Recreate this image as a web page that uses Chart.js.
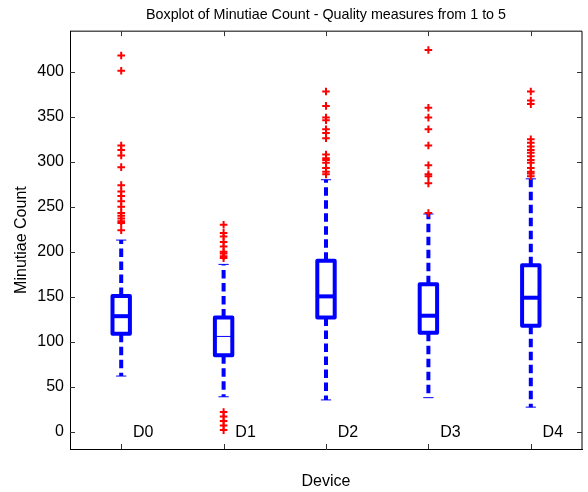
<!DOCTYPE html>
<html>
<head>
<meta charset="utf-8">
<script src="https://cdn.jsdelivr.net/npm/chart.js@4.4.1/dist/chart.umd.min.js"></script>
<style>
  body { margin: 0; background: #fff; }
  canvas { display: block; }
</style>
</head>
<body>
<canvas id="chart" width="588" height="492"></canvas>
<script>
// values
const devices = ['D0', 'D1', 'D2', 'D3', 'D4'];
const q1 = [109, 85, 127, 110, 118];
const medians = [128.5, 106, 150.5, 129, 149];
const q3 = [151, 127, 190, 164, 185];
const whiskerLow = [62, 39, 35.5, 38, 27.5];
const whiskerHigh = [213, 186, 280, 242, 281];
const outliers = [
  [418, 401, 318, 313, 307, 294, 274, 267, 262, 256, 250, 243, 240, 237, 234, 232, 224],
  [230, 221, 217, 211, 206, 200, 198, 195, 193, 22, 17, 12, 7, 2],
  [378, 362, 349, 346, 336, 332, 326, 308, 304, 302, 299, 293, 289, 286],
  [424, 360, 349, 336, 318, 296, 286, 284, 276, 243],
  [378, 368, 364, 325, 321, 317, 313, 310, 306, 302, 299, 293, 289, 287, 284]
];
const yTicks = [0, 50, 100, 150, 200, 250, 300, 350, 400];

// styles
const FONT = "'Liberation Sans', Arial, Helvetica, sans-serif";
const BLUE = '#0000ff';
const BOX_HALF = 0.085;
const CAP_HALF = 0.05;
const medianWidths = [4, 1, 4, 4, 4];

const outlierPoints = [];
outliers.forEach((list, i) => {
  list.forEach(v => outlierPoints.push({ x: i + 1, y: v }));
});

const boxPlugin = {
  id: 'boxes',
  beforeDatasetsDraw(chart) {
    const { ctx, scales: { x, y } } = chart;
    ctx.save();
    ctx.strokeStyle = BLUE;
    devices.forEach((d, i) => {
      const cx = x.getPixelForValue(i + 1);
      const bl = x.getPixelForValue(i + 1 - BOX_HALF);
      const br = x.getPixelForValue(i + 1 + BOX_HALF);
      const cl = x.getPixelForValue(i + 1 - CAP_HALF);
      const cr = x.getPixelForValue(i + 1 + CAP_HALF);
      const yq1 = y.getPixelForValue(q1[i]);
      const yq3 = y.getPixelForValue(q3[i]);
      const ymed = y.getPixelForValue(medians[i]);
      const ylo = y.getPixelForValue(whiskerLow[i]);
      const yhi = y.getPixelForValue(whiskerHigh[i]);

      // dashed whiskers
      ctx.lineWidth = 4;
      ctx.lineCap = 'butt';
      ctx.setLineDash([8.5, 4.5]);
      ctx.beginPath();
      ctx.moveTo(cx, yq3); ctx.lineTo(cx, yhi);
      ctx.moveTo(cx, yq1); ctx.lineTo(cx, ylo);
      ctx.stroke();
      ctx.setLineDash([]);

      // whisker caps
      ctx.lineWidth = 1;
      ctx.beginPath();
      ctx.moveTo(cl, yhi); ctx.lineTo(cr, yhi);
      ctx.moveTo(cl, ylo); ctx.lineTo(cr, ylo);
      ctx.stroke();

      // box
      ctx.lineWidth = 4;
      ctx.lineJoin = 'round';
      ctx.strokeRect(bl, yq3, br - bl, yq1 - yq3);

      // median
      ctx.lineWidth = medianWidths[i];
      ctx.beginPath();
      ctx.moveTo(bl, ymed); ctx.lineTo(br, ymed);
      ctx.stroke();
    });
    ctx.restore();
  },
  afterDatasetsDraw(chart) {
    const { ctx, chartArea: a, scales: { x, y } } = chart;
    ctx.save();
    // frame top / right
    ctx.strokeStyle = '#000';
    ctx.lineWidth = 1;
    ctx.beginPath();
    ctx.moveTo(a.left, a.top); ctx.lineTo(a.right, a.top); ctx.lineTo(a.right, a.bottom);
    ctx.stroke();
    // inward tick marks
    ctx.strokeStyle = '#333';
    ctx.beginPath();
    yTicks.forEach(v => {
      const py = Math.round(y.getPixelForValue(v)) + 0.5;
      ctx.moveTo(a.left, py); ctx.lineTo(a.left + 5, py);
      ctx.moveTo(a.right, py); ctx.lineTo(a.right - 5, py);
    });
    devices.forEach((d, i) => {
      const px = Math.round(x.getPixelForValue(i + 1)) + 0.5;
      ctx.moveTo(px, a.bottom); ctx.lineTo(px, a.bottom - 5);
      ctx.moveTo(px, a.top); ctx.lineTo(px, a.top + 5);
    });
    ctx.stroke();
    // device labels sit inside the plot, right of each box
    ctx.fillStyle = '#000';
    ctx.font = '16px ' + FONT;
    ctx.textAlign = 'center';
    ctx.textBaseline = 'middle';
    devices.forEach((d, i) => {
      ctx.fillText(d, x.getPixelForValue(i + 1) + 22, y.getPixelForValue(0) + 1);
    });
    ctx.restore();
  }
};

new Chart(document.getElementById('chart'), {
  type: 'scatter',
  data: {
    datasets: [{
      label: 'Outliers',
      data: outlierPoints,
      pointStyle: 'cross',
      radius: 3.8,
      borderColor: '#ff0000',
      borderWidth: 2,
      backgroundColor: '#ff0000'
    }]
  },
  options: {
    responsive: false,
    animation: false,
    layout: { padding: { left: 0, right: 5, top: 0, bottom: 0 } },
    scales: {
      x: {
        type: 'linear',
        min: 0.5,
        max: 5.5,
        grid: { display: false, drawTicks: false },
        border: { display: true, color: '#000', width: 1 },
        ticks: { display: false },
        title: {
          display: true,
          text: 'Device',
          color: '#000',
          font: { family: FONT, size: 16 },
          padding: { top: 0, bottom: 1 }
        },
        afterFit: s => { s.height = 43; }
      },
      y: {
        min: -19,
        max: 445,
        grid: { display: false, drawTicks: false },
        border: { display: true, color: '#000', width: 1 },
        afterBuildTicks: s => { s.ticks = yTicks.map(v => ({ value: v })); },
        ticks: {
          color: '#000',
          padding: 6,
          font: { family: FONT, size: 16 }
        },
        title: {
          display: true,
          text: 'Minutiae Count',
          color: '#000',
          font: { family: FONT, size: 16 },
          padding: { top: 12, bottom: 0 }
        },
        afterFit: s => { s.width = 70; }
      }
    },
    plugins: {
      legend: { display: false },
      tooltip: { enabled: false },
      title: {
        display: true,
        fullSize: false,
        text: 'Boxplot of Minutiae Count - Quality measures from 1 to 5',
        color: '#000',
        font: { family: FONT, size: 14.3, weight: 'normal' },
        padding: { top: 6, bottom: 8 }
      }
    }
  },
  plugins: [boxPlugin]
});
</script>
</body>
</html>
